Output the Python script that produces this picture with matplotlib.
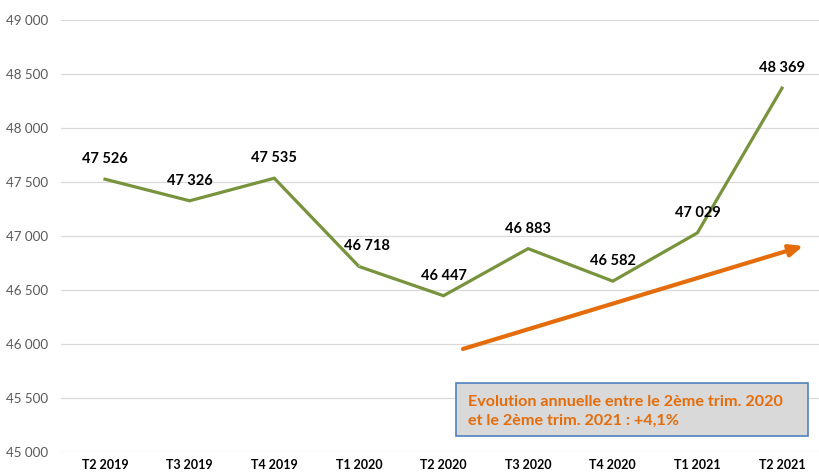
import matplotlib
matplotlib.use("Agg")
import matplotlib.pyplot as plt
from matplotlib.patches import Rectangle

categories = ["T2 2019", "T3 2019", "T4 2019", "T1 2020", "T2 2020",
              "T3 2020", "T4 2020", "T1 2021", "T2 2021"]
values = [47526, 47326, 47535, 46718, 46447, 46883, 46582, 47029, 48369]
y_ticks = [45000, 45500, 46000, 46500, 47000, 47500, 48000, 48500, 49000]
trend_start = (4.23, 45954)
trend_end = (8.25, 46907)
note = "Evolution annuelle entre le 2ème trim. 2020\net le 2ème trim. 2021 : +4,1%"

plt.rcParams['font.family'] = ['Lato', 'DejaVu Sans']

W, H = 819, 476
fig = plt.figure(figsize=(W / 100, H / 100), dpi=100)
ax = fig.add_axes([61 / W, 1 - 452 / H, 1 - 61 / W, (452 - 20) / H])

x = list(range(len(categories)))
ax.plot(x, values, color="#77933C", lw=2.3, solid_joinstyle="miter", zorder=3)

ax.set_xlim(-0.52, 8.437)
ax.set_ylim(45000, 49000)
ax.set_yticks(y_ticks)
ax.set_yticklabels([f"{v:,}".replace(",", " ") for v in y_ticks],
                   fontsize=9.6, color="#595959")
ax.set_xticks(x)
ax.set_xticklabels(categories, fontsize=9, fontweight="bold", color="black")
ax.tick_params(axis="both", length=0)
ax.tick_params(axis="y", pad=9.4)
ax.tick_params(axis="x", pad=5)
ax.grid(axis="y", color="#D9D9D9", lw=0.9)
ax.set_axisbelow(True)
for s in ax.spines.values():
    s.set_visible(False)

for i, v in enumerate(values):
    lab = f"{v:,}".replace(",", " ")
    if i == 3:
        ax.annotate(lab, (i, v), xytext=(8, 20), textcoords="offset pixels",
                    ha="center", va="center", fontsize=10.5, fontweight="bold",
                    arrowprops=dict(arrowstyle="-", color="#BFBFBF", lw=0.8,
                                    shrinkA=6, shrinkB=2))
    else:
        ax.annotate(lab, (i, v), xytext=(0, 20), textcoords="offset pixels",
                    ha="center", va="center", fontsize=10.5, fontweight="bold")

ax.annotate("", xy=trend_end, xytext=trend_start,
            arrowprops=dict(arrowstyle="-|>,head_length=0.8,head_width=0.35",
                            color="#E46C0A", lw=3, shrinkA=0, shrinkB=0),
            zorder=4)

rect = Rectangle((456 / W, 1 - 436 / H), (808 - 456) / W, (436 - 383) / H,
                 transform=fig.transFigure, facecolor="#D9D9D9",
                 edgecolor="#4F81BD", lw=1.2, zorder=5)
fig.patches.append(rect)
fig.text(468 / W, 1 - 411 / H, note, ha="left", va="center", fontsize=11.6,
         fontweight="bold", color="#E46C0A", linespacing=1.45, zorder=6)

fig.savefig("out.png", dpi=100)
